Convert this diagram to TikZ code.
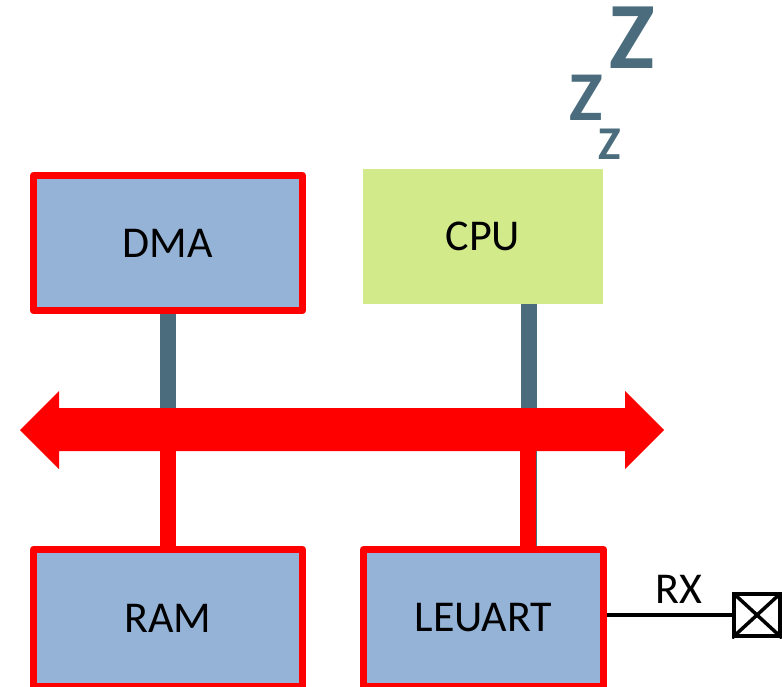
\documentclass[tikz,border=0pt]{standalone}
\usepackage{fontspec}
\setmainfont{Carlito}
\begin{document}
\begin{tikzpicture}[x=1pt,y=-1pt,
  blockbox/.style={rectangle,fill=boxblue,draw=red,line width=7pt,line join=round,inner sep=0pt,font=\fontsize{44}{44}\selectfont},
  cpubox/.style={rectangle,fill=cpugreen,inner sep=0pt,font=\fontsize{44}{44}\selectfont},
  greylink/.style={draw=linkgrey,line width=16pt},
  redlink/.style={draw=red,line width=16pt},
  zzz/.style={text=linkgrey,inner sep=0pt,anchor=base,font=\bfseries}]
\definecolor{boxblue}{HTML}{95B3D7}
\definecolor{cpugreen}{HTML}{D3EA8B}
\definecolor{linkgrey}{HTML}{4A6C7D}
\useasboundingbox (0,0) rectangle (782,687);
% boxes
\node[blockbox,minimum width=269pt,minimum height=135pt] (dma) at (168,243) {DMA};
\node[cpubox,minimum width=240pt,minimum height=135pt] (cpu) at (483,236.5) {CPU};
\node[blockbox,minimum width=269pt,minimum height=137pt] (ram) at (168,618) {RAM};
\node[blockbox,minimum width=240pt,minimum height=137pt] (leuart) at (483.5,618) {LEUART};
% bus reference coordinates
\coordinate (bustop) at (0,408);
\coordinate (busbot) at (0,451);
\coordinate (dmaX) at (168,0);
\coordinate (cpuX) at (528.5,0);
% connectors
\draw[greylink] (dmaX |- dma.south) -- (dmaX |- bustop);
\draw[greylink] (cpuX |- cpu.south) -- (cpuX |- leuart.north);
\draw[redlink] (dmaX |- busbot) -- (dmaX |- ram.north);
\draw[redlink] ([xshift=-1pt]cpuX |- busbot) -- ([xshift=-1pt]cpuX |- leuart.north);
% bus arrow
\fill[red] (20,430) -- (59,391) -- (59,408) -- (625,408) -- (625,391) -- (664,430)
  -- (625,469) -- (625,451) -- (59,451) -- (59,469) -- cycle;
% RX pin
\node[draw=black,line width=4pt,minimum width=46pt,minimum height=42pt,inner sep=0pt] (pin) at (757,615) {};
\begin{scope}
  \clip (pin.north west) rectangle (pin.south east);
  \draw[line width=3.5pt] (pin.north west) -- (pin.south east);
  \draw[line width=3.5pt] (pin.south west) -- (pin.north east);
\end{scope}
\draw[line width=4pt] (leuart.east) coordinate (lx) (lx |- pin.west) -- (pin.west);
\node[font=\fontsize{44}{44}\selectfont,inner sep=0pt] (rx) at (678.5,589) {RX};
% sleeping Zs
\node[zzz,font=\bfseries\fontsize{95}{95}\selectfont] (z1) at (632.5,69) {Z};
\node[zzz,font=\bfseries\fontsize{70}{70}\selectfont] (z2) at (586.5,121) {Z};
\node[zzz,font=\bfseries\fontsize{47}{47}\selectfont] (z3) at (609.5,160) {Z};
\end{tikzpicture}
\end{document}
